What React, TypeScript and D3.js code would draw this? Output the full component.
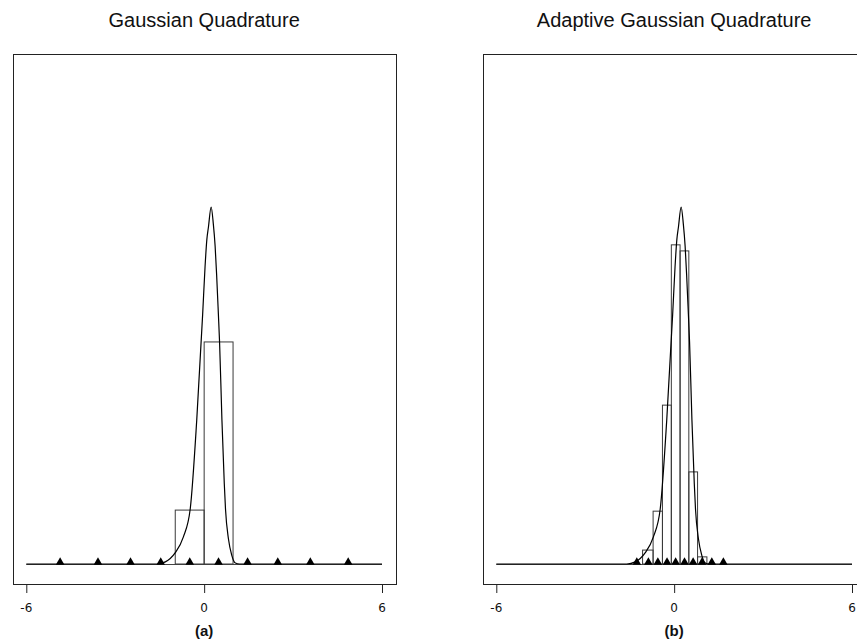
import React from "react";
import * as d3 from "d3";

// ---- data ----
const xTicks = [-6, 0, 6];
const titles = ["Gaussian Quadrature", "Adaptive Gaussian Quadrature"];
const panelLabels = ["(a)", "(b)"];

// integrand curve (same in both panels), height relative to its peak
const curveX = [-6, -1.6, -1.31, -0.98, -0.7, -0.47, -0.25, -0.05, 0.03, 0.09, 0.145, 0.236, 0.31, 0.37, 0.42, 0.48, 0.52, 0.6, 0.68, 0.72, 0.82, 0.93, 1.05, 1.2, 6];
const curveY = [0, 0, 0.006, 0.031, 0.076, 0.154, 0.403, 0.7, 0.832, 0.908, 0.944, 1.0, 0.952, 0.891, 0.812, 0.7, 0.622, 0.403, 0.224, 0.154, 0.07, 0.025, 0.003, 0, 0];

// (a) ordinary Gauss-Hermite nodes and bar heights
const nodesA = [-4.859, -3.582, -2.484, -1.465, -0.485, 0.485, 1.465, 2.484, 3.582, 4.859];
const barsA = [0, 0, 0, 0, 0.151, 0.622, 0, 0, 0, 0];

// (b) adaptive nodes and bar heights
const nodesB = [-1.26, -0.87, -0.55, -0.24, 0.05, 0.35, 0.64, 0.94, 1.27, 1.66];
const barsB = [0, 0.039, 0.148, 0.445, 0.894, 0.877, 0.258, 0.02, 0, 0];

const W = 857;
const H = 641;

function Panel({ offset, title, label, nodes, bars }) {
  const x = d3.scaleLinear().domain([-6, 6]).range([26.3 + offset, 382 + offset]);
  const y = d3.scaleLinear().domain([0, 1]).range([564, 207]);
  const boxL = 13 + offset;
  const boxR = 396 + offset;
  const boxT = 54;
  const boxB = 584;
  const pts = curveX.map((v, i) => [v, curveY[i]]);
  const line = d3
    .line()
    .x((d) => x(d[0]))
    .y((d) => y(d[1]))
    .curve(d3.curveMonotoneX);
  const edges = nodes.map((n, i) => {
    const lo = i > 0 ? (nodes[i - 1] + n) / 2 : n - (nodes[1] - nodes[0]) / 2;
    const hi = i < nodes.length - 1 ? (nodes[i + 1] + n) / 2 : n + (n - nodes[i - 1]) / 2;
    return [lo, hi];
  });
  const tri = d3.symbol(d3.symbolTriangle, 32)();
  const cx = (x(-6) + x(6)) / 2;
  return (
    <g>
      <text
        x={cx}
        y={27}
        textAnchor="middle"
        fontFamily="Liberation Sans, Arial, sans-serif"
        fontSize={20}
        fill="#111"
      >
        {title}
      </text>
      <rect x={boxL + 0.5} y={boxT + 0.5} width={boxR - boxL} height={boxB - boxT} fill="none" stroke="#222" strokeWidth={1} />
      {/* baseline */}
      <line x1={x(-6)} x2={x(6)} y1={y(0) + 0.5} y2={y(0) + 0.5} stroke="#444" strokeWidth={1} />
      {/* bars */}
      {bars.map((b, i) =>
        b > 0 ? (
          <rect
            key={i}
            x={x(edges[i][0])}
            y={y(b)}
            width={x(edges[i][1]) - x(edges[i][0])}
            height={y(0) - y(b)}
            fill="none"
            stroke="#3a3a3a"
            strokeWidth={1}
          />
        ) : null
      )}
      {/* curve */}
      <path d={line(pts)} fill="none" stroke="#000" strokeWidth={1.2} />
      {/* nodes */}
      {nodes.map((n, i) => (
        <path key={i} d={tri} transform={`translate(${x(n)},${y(0) - 1.8})`} fill="#000" />
      ))}
      {/* x axis ticks */}
      {xTicks.map((t) => (
        <g key={t}>
          <line x1={x(t) + 0.5} x2={x(t) + 0.5} y1={boxB} y2={boxB + 9} stroke="#222" strokeWidth={1} />
          <text
            x={x(t)}
            y={612}
            textAnchor="middle"
            fontFamily="DejaVu Sans, sans-serif"
            fontSize={12}
            fill="#111"
          >
            {t}
          </text>
        </g>
      ))}
      <text
        x={cx}
        y={636}
        textAnchor="middle"
        fontFamily="Liberation Sans, Arial, sans-serif"
        fontWeight="bold"
        fontSize={15}
        fill="#111"
      >
        {label}
      </text>
    </g>
  );
}

export default function App() {
  return (
    <svg
      width={W}
      height={H}
      style={{ position: "absolute", left: 0, top: 0, background: "#fff" }}
    >
      <rect x={0} y={0} width={W} height={H} fill="#fff" />
      <Panel offset={0} title={titles[0]} label={panelLabels[0]} nodes={nodesA} bars={barsA} />
      <Panel offset={470} title={titles[1]} label={panelLabels[1]} nodes={nodesB} bars={barsB} />
    </svg>
  );
}
